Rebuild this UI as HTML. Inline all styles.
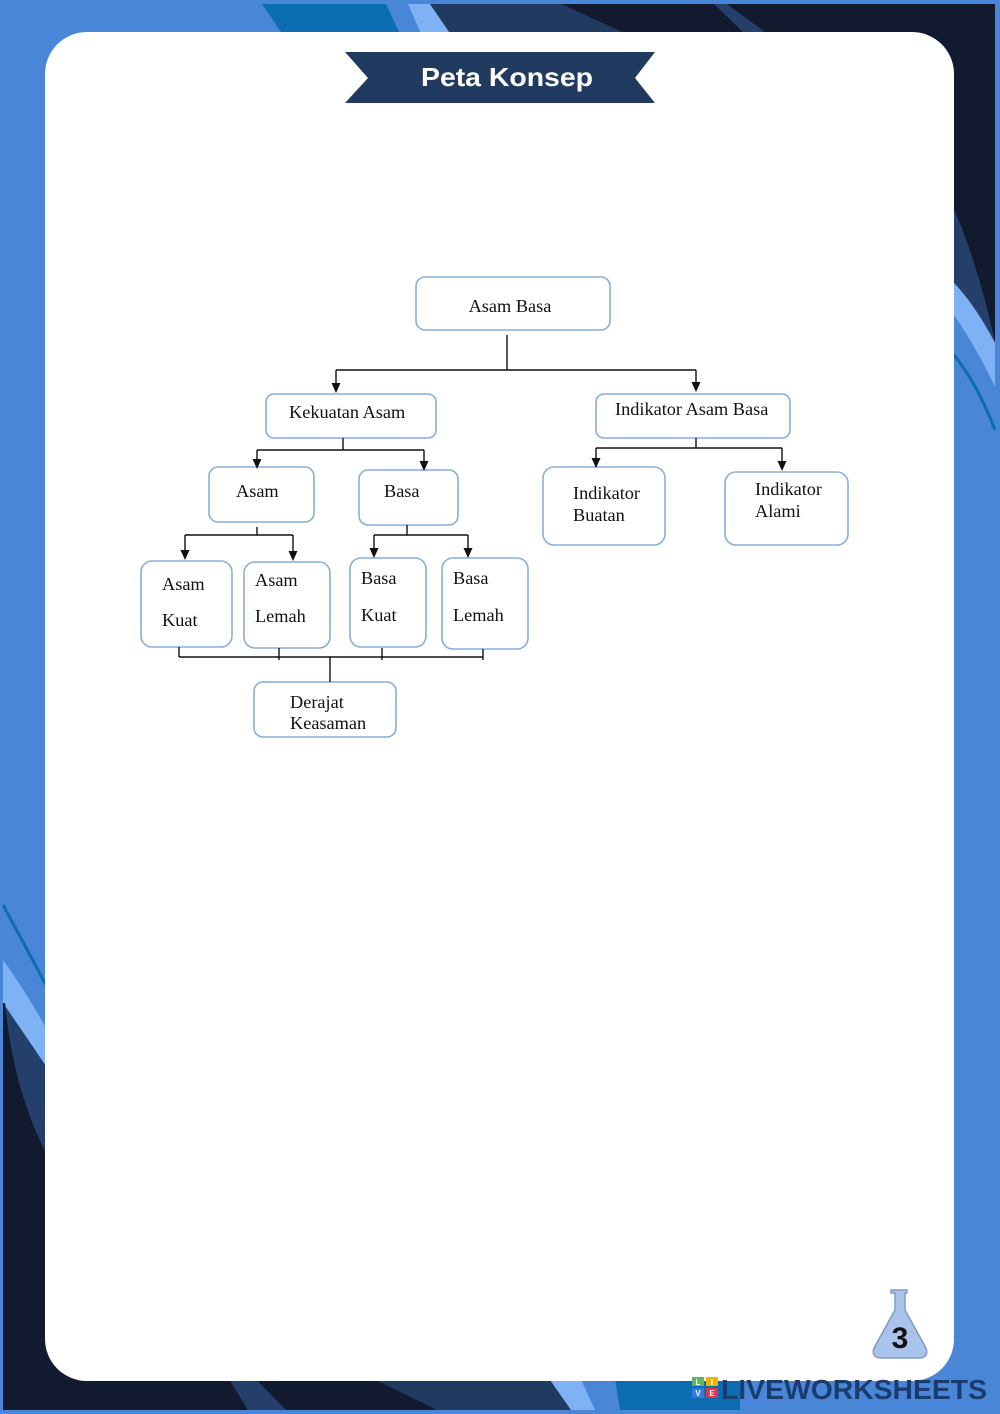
<!DOCTYPE html>
<html><head><meta charset="utf-8"><style>
html,body{margin:0;padding:0;background:#4a86d8;}
body{width:1000px;height:1414px;overflow:hidden;position:relative;}
svg{display:block;}
</style></head><body>
<svg width="1000" height="1414" viewBox="0 0 1000 1414" xmlns="http://www.w3.org/2000/svg">
<rect x="0" y="0" width="1000" height="1414" fill="#4a86d8"/>
<!-- top band -->
<polygon points="262,4 386,4 405,45 290,45" fill="#0b6cb1"/>
<polygon points="408,4 430,4 458,45 426,45" fill="#7fb2f4"/>
<polygon points="430,4 561,4 650,45 458,45" fill="#203a60"/>
<path d="M561,4 L995,4 L995,343 Q978,265 954,210 L900,210 L900,45 L650,45 Z" fill="#111a2e"/>
<polygon points="714,4 727,4 765,32 743,32" fill="#24406a"/>
<!-- right side -->
<path d="M954,210 Q980,270 995,343 Q975,305 954,283 Z" fill="#24406a"/>
<path d="M954,283 Q975,305 995,343 L995,387 Q975,345 954,315 Z" fill="#7fb2f4"/>
<path d="M954,355 Q978,385 995,430" stroke="#0b6cb1" stroke-width="3" fill="none"/>
<!-- left side -->
<path d="M3,905 Q25,945 50,993" stroke="#0b6cb1" stroke-width="3" fill="none"/>
<path d="M3,960 Q25,990 50,1035 L50,1072 Q25,1035 3,1003 Z" fill="#7fb2f4"/>
<path d="M3,1003 Q25,1035 50,1072 L50,1160 Q14,1095 5,1003 Z" fill="#24406a"/>
<path d="M5,1003 Q14,1095 50,1160 L50,1300 L110,1300 L110,1410 L3,1410 L3,1003 Z" fill="#111a2e"/>
<!-- bottom band -->
<rect x="3" y="1340" width="560" height="70" fill="#111a2e"/>
<polygon points="217,1360 237,1360 268,1410 248,1410" fill="#24406a"/>
<polygon points="227,1370 247,1370 286,1410 268,1410" fill="#24406a"/>
<polygon points="335,1360 540,1360 571,1410 437,1410" fill="#203a60"/>
<polygon points="536,1360 572,1360 595,1410 571,1410" fill="#7fb2f4"/>
<polygon points="612,1360 740,1360 740,1410 620,1410" fill="#0b6cb1"/>
<!-- card -->
<rect x="45" y="32" width="909" height="1349" rx="42" ry="42" fill="#ffffff"/>
<!-- banner -->
<polygon points="345,52 655,52 635,78 655,103 345,103 368,78" fill="#203a60"/>
<text x="507" y="86" text-anchor="middle" font-family="Liberation Sans, sans-serif" font-weight="bold" font-size="26" fill="#ffffff" textLength="172" lengthAdjust="spacingAndGlyphs">Peta Konsep</text>

<!-- diagram boxes -->
<g fill="#ffffff" stroke="#86aedb" stroke-width="1.6">
<rect x="416" y="277" width="194" height="53" rx="9"/>
<rect x="266" y="394" width="170" height="44" rx="8"/>
<rect x="596" y="394" width="194" height="44" rx="8"/>
<rect x="209" y="467" width="105" height="55" rx="9"/>
<rect x="359" y="470" width="99" height="55" rx="9"/>
<rect x="543" y="467" width="122" height="78" rx="11"/>
<rect x="725" y="472" width="123" height="73" rx="11"/>
<rect x="141" y="561" width="91" height="86" rx="11"/>
<rect x="244" y="562" width="86" height="86" rx="11"/>
<rect x="350" y="558" width="76" height="89" rx="11"/>
<rect x="442" y="558" width="86" height="91" rx="11"/>
<rect x="254" y="682" width="142" height="55" rx="9"/>
</g>

<!-- connectors -->
<g stroke="#111" stroke-width="1.4" fill="none">
<line x1="507" y1="335" x2="507" y2="370"/>
<line x1="336" y1="370" x2="696" y2="370"/>
<line x1="336" y1="370" x2="336" y2="384"/>
<line x1="696" y1="370" x2="696" y2="383"/>
<line x1="343" y1="438" x2="343" y2="450"/>
<line x1="257" y1="450" x2="424" y2="450"/>
<line x1="257" y1="450" x2="257" y2="459"/>
<line x1="424" y1="450" x2="424" y2="462"/>
<line x1="696" y1="438" x2="696" y2="448"/>
<line x1="596" y1="448" x2="782" y2="448"/>
<line x1="596" y1="448" x2="596" y2="459"/>
<line x1="782" y1="448" x2="782" y2="462"/>
<line x1="257" y1="527" x2="257" y2="535"/>
<line x1="185" y1="535" x2="293" y2="535"/>
<line x1="185" y1="535" x2="185" y2="551"/>
<line x1="293" y1="535" x2="293" y2="552"/>
<line x1="407" y1="525" x2="407" y2="535"/>
<line x1="374" y1="535" x2="468" y2="535"/>
<line x1="374" y1="535" x2="374" y2="549"/>
<line x1="468" y1="535" x2="468" y2="549"/>
<line x1="179" y1="657" x2="483" y2="657"/>
<line x1="179" y1="647" x2="179" y2="657"/>
<line x1="279" y1="648" x2="279" y2="660"/>
<line x1="382" y1="648" x2="382" y2="660"/>
<line x1="483" y1="649" x2="483" y2="660"/>
<line x1="330" y1="657" x2="330" y2="682"/>
</g>
<g fill="#111">
<polygon points="331.5,383 340.5,383 336,393"/>
<polygon points="691.5,382 700.5,382 696,392"/>
<polygon points="252.5,459 261.5,459 257,469"/>
<polygon points="419.5,461 428.5,461 424,471"/>
<polygon points="591.5,458 600.5,458 596,468"/>
<polygon points="777.5,461 786.5,461 782,471"/>
<polygon points="180.5,550 189.5,550 185,560"/>
<polygon points="288.5,551 297.5,551 293,561"/>
<polygon points="369.5,548 378.5,548 374,558"/>
<polygon points="463.5,548 472.5,548 468,558"/>
</g>

<!-- labels -->
<g font-family="Liberation Serif, serif" font-size="18.3" fill="#111">
<text x="510" y="312" text-anchor="middle">Asam Basa</text>
<text x="289" y="418">Kekuatan Asam</text>
<text x="615" y="415">Indikator Asam Basa</text>
<text x="236" y="497">Asam</text>
<text x="384" y="497">Basa</text>
<text x="573" y="499">Indikator</text>
<text x="573" y="521">Buatan</text>
<text x="755" y="495">Indikator</text>
<text x="755" y="517">Alami</text>
<text x="162" y="590">Asam</text>
<text x="162" y="626">Kuat</text>
<text x="255" y="586">Asam</text>
<text x="255" y="622">Lemah</text>
<text x="361" y="584">Basa</text>
<text x="361" y="621">Kuat</text>
<text x="453" y="584">Basa</text>
<text x="453" y="621">Lemah</text>
<text x="290" y="708">Derajat</text>
<text x="290" y="729">Keasaman</text>
</g>

<!-- flask -->
<path d="M891,1290 L907,1290 L907,1293 L905,1293 L905,1310 L926,1348 Q929,1357 920,1358 L880,1358 Q871,1357 874,1348 L895,1310 L895,1293 L891,1293 Z" fill="#a9c3ea" stroke="#7e9cc6" stroke-width="1.5"/>
<text x="900" y="1348" text-anchor="middle" font-family="Liberation Sans, sans-serif" font-weight="bold" font-size="30" fill="#111">3</text>

<!-- liveworksheets logo -->
<rect x="692" y="1377" width="12" height="9" fill="#5cb85c"/>
<rect x="706" y="1377" width="12" height="9" fill="#f0b400"/>
<rect x="692" y="1388" width="12" height="10" fill="#2f7be0"/>
<rect x="706" y="1388" width="12" height="10" fill="#e0344a"/>
<text x="698" y="1385" text-anchor="middle" font-family="Liberation Sans, sans-serif" font-weight="bold" font-size="8" fill="#fff">L</text>
<text x="712" y="1385" text-anchor="middle" font-family="Liberation Sans, sans-serif" font-weight="bold" font-size="8" fill="#fff">I</text>
<text x="698" y="1396" text-anchor="middle" font-family="Liberation Sans, sans-serif" font-weight="bold" font-size="8" fill="#fff">V</text>
<text x="712" y="1396" text-anchor="middle" font-family="Liberation Sans, sans-serif" font-weight="bold" font-size="8" fill="#fff">E</text>
<text x="721" y="1399" font-family="Liberation Sans, sans-serif" font-weight="bold" font-size="28" fill="#1b3c70" textLength="266" lengthAdjust="spacingAndGlyphs">LIVEWORKSHEETS</text>
</svg>
</body></html>
